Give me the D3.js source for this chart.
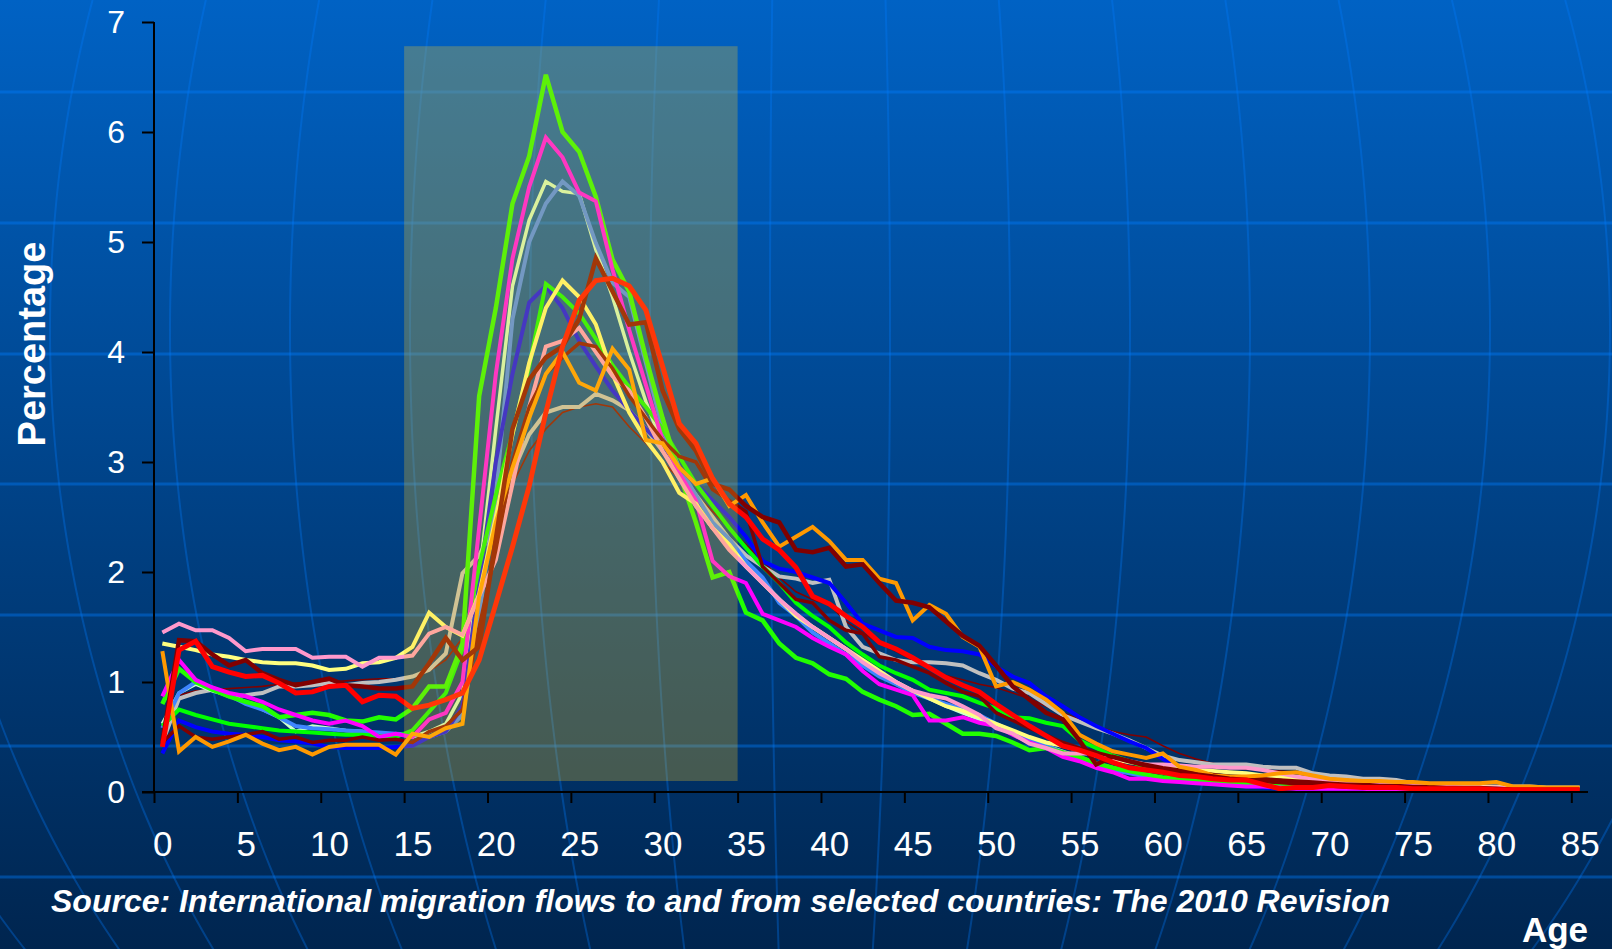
<!DOCTYPE html>
<html>
<head>
<meta charset="utf-8">
<script src="https://cdn.jsdelivr.net/npm/d3@7"></script>
<style>
  html, body { margin: 0; padding: 0; overflow: hidden; background: #003a75; }
  svg { display: block; }
  text { font-family: "Liberation Sans", Arial, sans-serif; fill: #fff; }
</style>
</head>
<body>
<svg id="chart" width="1612" height="949"></svg>
<script>
// age categories 0..85, one value per age (percentage of migrants)
const ages = d3.range(0, 86);
const ageTicks = [0, 5, 10, 15, 20, 25, 30, 35, 40, 45, 50, 55, 60, 65, 70, 75, 80, 85];
const pctTicks = [0, 1, 2, 3, 4, 5, 6, 7];
const highlightAges = [15, 35];
const highlightPct = [0.1, 6.78];

const lime = [
  0.80, 1.12, 1.00, 0.93, 0.87, 0.82, 0.78, 0.68, 0.70, 0.72,
  0.70, 0.65, 0.64, 0.68, 0.66, 0.76, 0.96, 0.96, 1.35, 3.60,
  4.40, 5.35, 5.78, 6.52, 6.00, 5.82, 5.41, 4.84, 4.55, 3.95,
  3.40, 2.90, 2.45, 1.95, 2.00, 1.63, 1.56, 1.35, 1.22, 1.17,
  1.07, 1.03, 0.91, 0.84, 0.78, 0.70, 0.71, 0.62, 0.53, 0.53,
  0.51, 0.45, 0.38, 0.40, 0.36, 0.32, 0.26, 0.22, 0.19, 0.16,
  0.13, 0.11, 0.10, 0.09, 0.08, 0.07, 0.06, 0.06, 0.05, 0.05,
  0.04, 0.04, 0.04, 0.03, 0.03, 0.03, 0.03, 0.02, 0.02, 0.02,
  0.02, 0.02, 0.02, 0.02, 0.02, 0.02
];
const green = [
  0.60, 0.75, 0.70, 0.66, 0.62, 0.60, 0.58, 0.56, 0.55, 0.54,
  0.53, 0.52, 0.52, 0.51, 0.50, 0.56, 0.73, 0.90, 1.30, 2.05,
  2.70, 3.26, 3.87, 4.62, 4.50, 4.35, 4.12, 3.88, 3.68, 3.50,
  3.30, 3.05, 2.80, 2.60, 2.40, 2.22, 2.05, 1.90, 1.72, 1.60,
  1.50, 1.36, 1.25, 1.15, 1.08, 1.02, 0.93, 0.90, 0.87, 0.81,
  0.76, 0.68, 0.67, 0.63, 0.60, 0.47, 0.40, 0.33, 0.28, 0.22,
  0.17, 0.14, 0.12, 0.10, 0.09, 0.08, 0.08, 0.07, 0.06, 0.06,
  0.05, 0.05, 0.04, 0.04, 0.04, 0.05, 0.04, 0.03, 0.03, 0.03,
  0.03, 0.02, 0.02, 0.02, 0.02, 0.02
];
const magenta = [
  0.87, 1.20, 1.02, 0.95, 0.90, 0.87, 0.82, 0.75, 0.70, 0.65,
  0.62, 0.65, 0.60, 0.50, 0.53, 0.50, 0.66, 0.72, 1.00, 2.40,
  3.80, 4.85, 5.50, 5.95, 5.77, 5.45, 5.37, 4.75, 4.20, 3.70,
  3.20, 2.90, 2.65, 2.10, 1.96, 1.90, 1.62, 1.56, 1.50, 1.40,
  1.32, 1.25, 1.10, 0.98, 0.93, 0.88, 0.65, 0.65, 0.68, 0.63,
  0.60, 0.52, 0.45, 0.40, 0.32, 0.28, 0.22, 0.18, 0.12, 0.12,
  0.10, 0.09, 0.08, 0.07, 0.06, 0.05, 0.05, 0.04, 0.03, 0.03,
  0.03, 0.03, 0.03, 0.02, 0.02, 0.02, 0.02, 0.02, 0.02, 0.02,
  0.02, 0.02, 0.01, 0.01, 0.01, 0.01
];
const mint = [
  0.62, 0.90, 0.98, 0.92, 0.88, 0.82, 0.75, 0.68, 0.55, 0.60,
  0.58, 0.56, 0.55, 0.52, 0.53, 0.50, 0.55, 0.62, 0.90, 1.95,
  3.30, 4.60, 5.20, 5.55, 5.46, 5.44, 4.93, 4.50, 4.00, 3.55,
  3.15, 2.85, 2.60, 2.40, 2.25, 2.10, 1.90, 1.75, 1.62, 1.50,
  1.40, 1.30, 1.18, 1.08, 1.00, 0.92, 0.85, 0.78, 0.72, 0.66,
  0.60, 0.53, 0.47, 0.42, 0.37, 0.32, 0.26, 0.22, 0.18, 0.15,
  0.13, 0.12, 0.10, 0.09, 0.08, 0.07, 0.07, 0.06, 0.05, 0.05,
  0.04, 0.04, 0.04, 0.03, 0.03, 0.03, 0.03, 0.02, 0.02, 0.02,
  0.02, 0.02, 0.02, 0.02, 0.02, 0.02
];
const cornflower = [
  0.58, 0.90, 1.00, 0.95, 0.88, 0.80, 0.75, 0.68, 0.60, 0.58,
  0.57, 0.56, 0.55, 0.54, 0.53, 0.52, 0.50, 0.55, 0.70, 1.60,
  2.70, 4.30, 5.00, 5.35, 5.55, 5.42, 4.99, 4.63, 4.50, 3.90,
  3.30, 2.95, 2.70, 2.45, 2.30, 2.10, 1.95, 1.72, 1.60, 1.45,
  1.35, 1.25, 1.15, 1.05, 0.98, 0.90, 0.85, 0.80, 0.75, 0.70,
  0.62, 0.55, 0.48, 0.42, 0.36, 0.30, 0.25, 0.20, 0.17, 0.14,
  0.12, 0.10, 0.09, 0.08, 0.07, 0.06, 0.05, 0.05, 0.04, 0.04,
  0.04, 0.03, 0.03, 0.03, 0.03, 0.02, 0.02, 0.02, 0.02, 0.02,
  0.02, 0.02, 0.02, 0.01, 0.01, 0.01
];
const blue = [
  0.35, 0.65, 0.59, 0.55, 0.53, 0.52, 0.50, 0.47, 0.46, 0.44,
  0.41, 0.40, 0.40, 0.40, 0.41, 0.42, 0.50, 0.55, 0.78, 1.90,
  3.00, 3.80, 4.45, 4.60, 4.40, 4.10, 3.87, 3.65, 3.47, 3.30,
  3.15, 2.95, 2.80, 2.65, 2.50, 2.32, 2.10, 2.03, 2.00, 1.95,
  1.90, 1.72, 1.53, 1.47, 1.41, 1.40, 1.32, 1.29, 1.28, 1.25,
  1.14, 1.05, 0.99, 0.87, 0.78, 0.68, 0.60, 0.53, 0.46, 0.40,
  0.30, 0.22, 0.15, 0.10, 0.07, 0.05, 0.04, 0.03, 0.03, 0.02,
  0.02, 0.02, 0.02, 0.02, 0.02, 0.02, 0.01, 0.01, 0.01, 0.01,
  0.01, 0.01, 0.01, 0.01, 0.01, 0.01
];
const yellow = [
  1.35, 1.32, 1.29, 1.25, 1.23, 1.20, 1.18, 1.17, 1.17, 1.15,
  1.11, 1.12, 1.17, 1.18, 1.22, 1.32, 1.63, 1.50, 1.42, 1.80,
  2.50, 3.25, 3.90, 4.40, 4.65, 4.50, 4.25, 3.80, 3.45, 3.20,
  3.00, 2.72, 2.62, 2.40, 2.25, 2.05, 1.90, 1.75, 1.60, 1.50,
  1.40, 1.30, 1.20, 1.10, 1.00, 0.92, 0.85, 0.78, 0.74, 0.68,
  0.62, 0.56, 0.50, 0.45, 0.42, 0.38, 0.33, 0.30, 0.27, 0.25,
  0.23, 0.21, 0.20, 0.19, 0.18, 0.17, 0.15, 0.14, 0.12, 0.11,
  0.10, 0.09, 0.09, 0.08, 0.08, 0.07, 0.06, 0.06, 0.05, 0.05,
  0.04, 0.04, 0.04, 0.03, 0.03, 0.03
];
const maroonA = [
  0.45, 1.38, 1.37, 1.25, 1.15, 1.20, 1.08, 1.02, 0.97, 1.00,
  1.03, 0.97, 0.96, 0.94, 0.94, 0.96, 1.17, 1.40, 1.20, 1.32,
  2.30, 3.30, 3.75, 3.95, 4.05, 4.30, 4.85, 4.55, 4.25, 4.27,
  3.65, 3.30, 3.10, 2.80, 2.75, 2.60, 2.50, 2.45, 2.20, 2.18,
  2.22, 2.05, 2.07, 1.90, 1.74, 1.72, 1.68, 1.55, 1.42, 1.33,
  1.15, 0.96, 0.84, 0.72, 0.66, 0.47, 0.25, 0.32, 0.28, 0.24,
  0.20, 0.18, 0.16, 0.14, 0.12, 0.11, 0.10, 0.09, 0.08, 0.07,
  0.06, 0.05, 0.05, 0.04, 0.04, 0.04, 0.03, 0.03, 0.03, 0.03,
  0.03, 0.02, 0.02, 0.02, 0.02, 0.02
];
const maroonB = [
  0.45, 0.60, 0.50, 0.48, 0.50, 0.52, 0.55, 0.48, 0.50, 0.45,
  0.47, 0.47, 0.50, 0.47, 0.48, 0.45, 0.55, 0.60, 0.75, 1.50,
  2.20, 3.00, 3.50, 3.80, 3.95, 4.08, 4.05, 3.85, 3.60, 3.40,
  3.20, 3.05, 3.00, 2.75, 2.65, 2.55, 2.05, 1.90, 1.75, 1.72,
  1.56, 1.47, 1.44, 1.23, 1.20, 1.14, 1.08, 0.99, 0.91, 0.87,
  0.72, 0.65, 0.58, 0.52, 0.45, 0.40, 0.36, 0.32, 0.28, 0.25,
  0.22, 0.20, 0.18, 0.16, 0.14, 0.13, 0.12, 0.11, 0.10, 0.09,
  0.08, 0.07, 0.07, 0.06, 0.06, 0.05, 0.05, 0.04, 0.04, 0.04,
  0.03, 0.03, 0.03, 0.03, 0.02, 0.02
];
const maroonThin = [
  0.55, 0.88, 0.92, 0.93, 0.94, 0.95, 0.96, 0.98, 0.99, 1.00,
  1.00, 1.01, 1.02, 1.03, 1.03, 1.05, 1.10, 1.20, 1.40, 1.90,
  2.40, 2.80, 3.10, 3.30, 3.45, 3.50, 3.53, 3.50, 3.32, 3.17,
  3.00, 2.85, 2.70, 2.55, 2.40, 2.25, 2.10, 1.95, 1.82, 1.75,
  1.70, 1.55, 1.45, 1.35, 1.28, 1.20, 1.12, 1.06, 1.02, 0.98,
  0.95, 0.90, 0.85, 0.78, 0.72, 0.66, 0.60, 0.55, 0.52, 0.50,
  0.42, 0.35, 0.30, 0.26, 0.23, 0.21, 0.20, 0.19, 0.18, 0.17,
  0.15, 0.13, 0.12, 0.11, 0.10, 0.09, 0.08, 0.07, 0.07, 0.06,
  0.05, 0.05, 0.04, 0.04, 0.04, 0.03
];
const red = [
  0.41, 1.29, 1.37, 1.14, 1.09, 1.05, 1.06, 0.99, 0.90, 0.91,
  0.96, 0.97, 0.82, 0.88, 0.87, 0.76, 0.79, 0.84, 0.90, 1.20,
  1.71, 2.23, 2.78, 3.45, 4.05, 4.47, 4.65, 4.67, 4.60, 4.38,
  3.87, 3.35, 3.17, 2.85, 2.62, 2.50, 2.30, 2.20, 2.04, 1.78,
  1.71, 1.60, 1.50, 1.36, 1.30, 1.22, 1.13, 1.04, 0.97, 0.91,
  0.80, 0.70, 0.60, 0.51, 0.42, 0.38, 0.33, 0.27, 0.22, 0.20,
  0.18, 0.15, 0.14, 0.12, 0.11, 0.11, 0.07, 0.03, 0.04, 0.04,
  0.06, 0.05, 0.04, 0.04, 0.04, 0.03, 0.03, 0.03, 0.03, 0.03,
  0.02, 0.02, 0.02, 0.02, 0.02, 0.02
];
const pink = [
  1.45, 1.53, 1.47, 1.47, 1.40, 1.28, 1.30, 1.30, 1.30, 1.22,
  1.23, 1.23, 1.14, 1.22, 1.22, 1.24, 1.44, 1.50, 1.43, 1.78,
  2.11, 2.80, 3.50, 4.05, 4.10, 4.22, 4.00, 3.78, 3.65, 3.40,
  3.10, 2.85, 2.60, 2.40, 2.20, 2.05, 1.90, 1.75, 1.62, 1.50,
  1.40, 1.30, 1.18, 1.08, 1.00, 0.92, 0.88, 0.85, 0.78, 0.70,
  0.58, 0.53, 0.44, 0.40, 0.35, 0.35, 0.35, 0.31, 0.28, 0.25,
  0.25, 0.24, 0.23, 0.23, 0.22, 0.22, 0.20, 0.17, 0.14, 0.12,
  0.10, 0.08, 0.08, 0.07, 0.06, 0.06, 0.05, 0.05, 0.04, 0.04,
  0.04, 0.03, 0.03, 0.03, 0.03, 0.02
];
const orange = [
  1.28, 0.37, 0.50, 0.41, 0.46, 0.52, 0.44, 0.38, 0.41, 0.34,
  0.41, 0.43, 0.43, 0.43, 0.34, 0.53, 0.50, 0.58, 0.62, 1.78,
  2.45, 2.95, 3.40, 3.80, 4.00, 3.72, 3.65, 4.03, 3.84, 3.20,
  3.17, 2.95, 2.80, 2.85, 2.60, 2.70, 2.45, 2.23, 2.32, 2.41,
  2.28, 2.11, 2.11, 1.94, 1.90, 1.56, 1.70, 1.62, 1.41, 1.32,
  0.96, 1.00, 0.93, 0.84, 0.72, 0.52, 0.44, 0.37, 0.34, 0.31,
  0.35, 0.23, 0.20, 0.15, 0.14, 0.14, 0.15, 0.17, 0.18, 0.15,
  0.12, 0.11, 0.10, 0.10, 0.09, 0.09, 0.08, 0.08, 0.08, 0.08,
  0.09, 0.05, 0.05, 0.04, 0.04, 0.04
];
const gray = [
  0.45, 0.85, 0.90, 0.93, 0.87, 0.88, 0.90, 0.96, 0.96, 0.97,
  0.99, 0.97, 0.99, 1.00, 1.02, 1.05, 1.11, 1.26, 1.99, 2.15,
  2.45, 2.90, 3.25, 3.45, 3.50, 3.50, 3.62, 3.56, 3.47, 3.30,
  3.10, 2.90, 2.70, 2.50, 2.30, 2.15, 2.05, 1.96, 1.94, 1.90,
  1.93, 1.50, 1.32, 1.26, 1.20, 1.18, 1.18, 1.17, 1.15, 1.08,
  1.02, 0.94, 0.90, 0.80, 0.70, 0.64, 0.58, 0.53, 0.47, 0.40,
  0.33, 0.29, 0.27, 0.25, 0.25, 0.25, 0.23, 0.22, 0.22, 0.17,
  0.15, 0.14, 0.12, 0.12, 0.11, 0.08, 0.07, 0.06, 0.06, 0.05,
  0.05, 0.05, 0.05, 0.04, 0.04, 0.04
];

// drawing order, bottom to top
const series = [
  { values: maroonThin, color: '#800000', width: 1.6 },
  { values: gray, color: '#c0c0c0', width: 4 },
  { values: mint, color: '#ccffcc', width: 3.5 },
  { values: cornflower, color: '#3f86ff', width: 4 },
  { values: blue, color: '#0000ff', width: 4 },
  { values: green, color: '#00ff00', width: 4 },
  { values: lime, color: '#22ff00', width: 4.5 },
  { values: magenta, color: '#ff00ff', width: 4 },
  { values: yellow, color: '#ffff80', width: 4 },
  { values: pink, color: '#ff99cc', width: 4 },
  { values: maroonB, color: '#800000', width: 3.5 },
  { values: orange, color: '#ff9900', width: 4 },
  { values: maroonA, color: '#800000', width: 4.5 },
  { values: red, color: '#ff0000', width: 5 },
];

const W = 1612;
const H = 949;
const svg = d3.select('#chart');

const x = d3.scaleLinear().domain([0, 86]).range([154, 1588]);
const y = d3.scaleLinear().domain([0, 7]).range([792, 22]);

// background
const defs = svg.append('defs');
const bg = defs.append('linearGradient')
  .attr('id', 'bg')
  .attr('x1', 0).attr('y1', 0).attr('x2', 0).attr('y2', 1);
bg.append('stop').attr('offset', '0%').attr('stop-color', '#0062c4');
bg.append('stop').attr('offset', '100%').attr('stop-color', '#00254f');

svg.append('rect')
  .attr('width', W)
  .attr('height', H)
  .attr('fill', 'url(#bg)');

// globe grid behind the chart
const globe = svg.append('g').attr('class', 'globe');
[92, 223, 354, 484, 615, 746, 877].forEach((gy) => {
  globe.append('line')
    .attr('x1', 0).attr('x2', W)
    .attr('y1', gy).attr('y2', gy)
    .attr('stroke', 'rgba(0,125,255,0.4)')
    .attr('stroke-width', 3);
});
const meridian = d3.line()
  .x(d => d[0])
  .y(d => d[1]);
const cx = 810;
const cy = 330;
const ry = 1000;
d3.range(-1240, 1300, 120).forEach((b) => {
  const pts = d3.range(0, H + 10, 10).map((gy) => {
    const u = (gy - cy) / ry;
    return [cx + b * Math.sqrt(Math.max(0, 1 - (u * u))), gy];
  });
  globe.append('path')
    .attr('d', meridian(pts))
    .attr('fill', 'none')
    .attr('stroke', 'rgba(0,125,255,0.32)')
    .attr('stroke-width', 2);
});

// series lines
const line = d3.line()
  .x((d, i) => x(ages[i] + 0.5))
  .y(d => y(d));

svg.append('g')
  .attr('class', 'lines')
  .selectAll('path')
  .data(series)
  .enter().append('path')
  .attr('d', d => line(d.values))
  .attr('fill', 'none')
  .attr('stroke', d => d.color)
  .attr('stroke-width', d => d.width)
  .attr('stroke-linejoin', 'miter');

// highlighted age band, drawn over the lines
svg.append('rect')
  .attr('x', x(highlightAges[0]))
  .attr('y', y(highlightPct[1]))
  .attr('width', x(highlightAges[1]) - x(highlightAges[0]))
  .attr('height', y(highlightPct[0]) - y(highlightPct[1]))
  .attr('fill', 'rgba(255,205,30,0.27)');

// y axis
const yAxis = d3.axisLeft(y)
  .tickValues(pctTicks)
  .tickSize(12)
  .tickPadding(17)
  .tickFormat(d3.format('d'));

const gy = svg.append('g')
  .attr('class', 'y axis')
  .attr('transform', `translate(${x(0)},0)`)
  .call(yAxis);
gy.select('.domain').remove();
gy.selectAll('.tick line').attr('stroke', '#000').attr('stroke-width', 2);
gy.selectAll('.tick text')
  .attr('fill', '#fff')
  .style('font-size', '32px')
  .style('font-family', '"Liberation Sans", Arial, sans-serif');
gy.append('line')
  .attr('y1', y(7)).attr('y2', y(0))
  .attr('stroke', '#000').attr('stroke-width', 2);

// x axis
const xAxis = d3.axisBottom(x)
  .tickValues(ageTicks)
  .tickSize(11)
  .tickFormat(d3.format('d'));

const gx = svg.append('g')
  .attr('class', 'x axis')
  .attr('transform', `translate(0,${y(0)})`)
  .call(xAxis);
gx.select('.domain').remove();
gx.selectAll('.tick line').attr('stroke', '#000').attr('stroke-width', 2);
gx.selectAll('.tick text')
  .attr('fill', '#fff')
  .attr('x', x(0.5) - x(0))
  .attr('y', 64)
  .attr('dy', 0)
  .style('font-size', '35px')
  .style('font-family', '"Liberation Sans", Arial, sans-serif');
gx.append('line')
  .attr('x1', x(0) - 12).attr('x2', x(86))
  .attr('stroke', '#000').attr('stroke-width', 2);

// titles
svg.append('text')
  .attr('transform', 'translate(45,344) rotate(-90)')
  .attr('text-anchor', 'middle')
  .style('font-size', '38px')
  .style('font-weight', 'bold')
  .text('Percentage');

svg.append('text')
  .attr('x', 1588)
  .attr('y', 942)
  .attr('text-anchor', 'end')
  .style('font-size', '35px')
  .style('font-weight', 'bold')
  .text('Age');

svg.append('text')
  .attr('x', 51)
  .attr('y', 912)
  .attr('textLength', 1339)
  .attr('lengthAdjust', 'spacingAndGlyphs')
  .style('font-size', '31px')
  .style('font-weight', 'bold')
  .style('font-style', 'italic')
  .text('Source: International migration flows to and from selected countries: The 2010 Revision');
</script>
</body>
</html>
